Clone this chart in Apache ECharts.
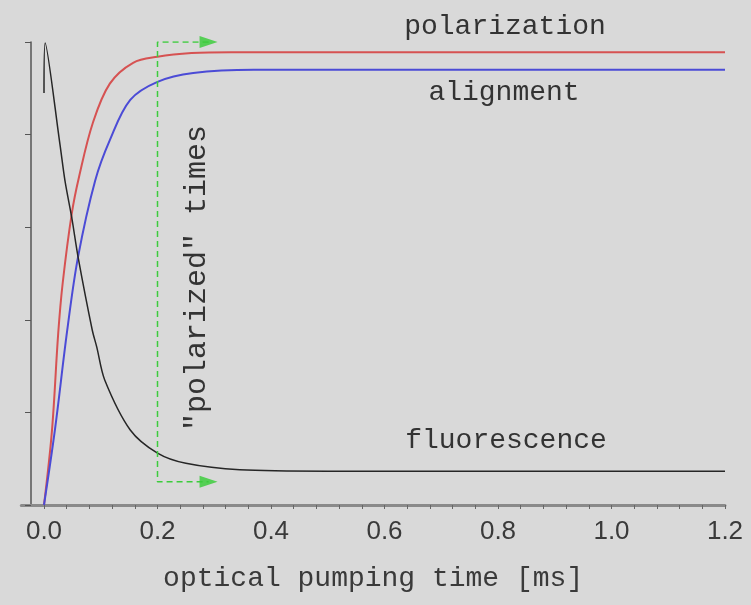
<!DOCTYPE html>
<html>
<head>
<meta charset="utf-8">
<script src="https://cdn.jsdelivr.net/npm/echarts@6/dist/echarts.min.js"></script>
<style>
  html, body { margin: 0; padding: 0; background: #d9d9d9; }
  #main { width: 751px; height: 605px; }
</style>
</head>
<body>
<div id="main"></div>
<script>
"use strict";
// values (x in ms, y normalised 0..1)
var polTime = [0, 0.014, 0.025, 0.033, 0.049, 0.062, 0.086, 0.116, 0.157, 0.2, 0.26, 0.33, 0.6, 1.2];
var polVal  = [0, 0.16, 0.37, 0.48, 0.63, 0.71, 0.825, 0.91, 0.955, 0.968, 0.976, 0.978, 0.978, 0.978];

var aliTime = [0, 0.019, 0.041, 0.06, 0.09, 0.116, 0.152, 0.2, 0.263, 0.37, 0.6, 1.2];
var aliVal  = [0, 0.16, 0.378, 0.536, 0.70, 0.788, 0.875, 0.914, 0.933, 0.94, 0.94, 0.94];

var fluTime = [0, 0.002, 0.028, 0.037, 0.049, 0.06, 0.085, 0.093, 0.107, 0.152, 0.2, 0.25, 0.345, 0.5, 1.2];
var fluVal  = [0.89, 0.998, 0.78, 0.70, 0.62, 0.536, 0.378, 0.341, 0.27, 0.162, 0.112, 0.09, 0.076, 0.073, 0.073];

// green "polarized times" bracket
var boxTime = [0.29, 0.2, 0.2, 0.29];
var boxVal  = [1.0, 1.0, 0.05, 0.05];
var arrowTime = [0.29, 0.29];
var arrowVal  = [1.0, 0.05];

var xLabels = [0, 0.2, 0.4, 0.6, 0.8, 1.0, 1.2];
var xTicks = [];
for (var i = 0; i <= 30; i++) xTicks.push(+(i * 0.04).toFixed(2));

function pairs(xs, ys) {
    return xs.map(function(x, i) { return [x, ys[i]]; });
}

var myChart = echarts.init(document.getElementById('main'));

var textFont = '"Liberation Mono", "DejaVu Sans Mono", monospace';

var option = {
    backgroundColor: '#d9d9d9',
    animation: false,
    grid: { left: 21.3, right: 26, top: 42, bottom: 100 },
    xAxis: {
        type: 'value',
        min: -0.04,
        max: 1.2,
        splitLine: { show: false },
        axisLine: { onZero: false, lineStyle: { color: '#8a8a8a', width: 3 } },
        axisTick: { customValues: xTicks, length: 4, lineStyle: { color: '#666' } },
        axisLabel: {
            customValues: xLabels,
            margin: 14,
            fontFamily: '"Liberation Sans", Arial, sans-serif',
            fontSize: 26,
            color: '#3a3a3a',
            formatter: function(v) { return v.toFixed(1); }
        },
        name: 'optical pumping time [ms]',
        nameLocation: 'middle',
        nameGap: 60,
        nameTextStyle: { fontFamily: textFont, fontSize: 28, color: '#3a3a3a' }
    },
    yAxis: {
        type: 'value',
        min: 0,
        max: 1,
        interval: 0.2,
        offset: -9.7,
        splitLine: { show: false },
        axisLine: { onZero: false, lineStyle: { color: '#555', width: 1.5 } },
        axisTick: { length: 6, lineStyle: { color: '#555' } },
        axisLabel: { show: false }
    },
    series: [
        {
            name: 'polarization',
            type: 'line',
            data: pairs(polTime, polVal),
            showSymbol: false,
            smooth: 0.35,
            lineStyle: { color: '#d65252', width: 2 }
        },
        {
            name: 'alignment',
            type: 'line',
            data: pairs(aliTime, aliVal),
            showSymbol: false,
            smooth: 0.35,
            lineStyle: { color: '#4b4bd6', width: 2 }
        },
        {
            name: 'fluorescence',
            type: 'line',
            data: pairs(fluTime, fluVal),
            showSymbol: false,
            smooth: 0.3,
            lineStyle: { color: '#262626', width: 1.5 }
        },
        {
            name: 'box',
            type: 'line',
            data: pairs(boxTime, boxVal),
            showSymbol: false,
            lineStyle: { color: '#3ccc3c', width: 1.5, type: [6, 4] }
        },
        {
            name: 'arrows',
            type: 'scatter',
            data: pairs(arrowTime, arrowVal),
            symbol: 'triangle',
            symbolSize: [12, 18],
            symbolRotate: -90,
            itemStyle: { color: '#33cc33' }
        }
    ],
    graphic: [
        { type: 'text', x: 505, y: 27, style: { text: 'polarization', font: '28px ' + textFont, fill: '#333', align: 'center', verticalAlign: 'middle' } },
        { type: 'text', x: 504, y: 93, style: { text: 'alignment', font: '28px ' + textFont, fill: '#333', align: 'center', verticalAlign: 'middle' } },
        { type: 'text', x: 506, y: 441, style: { text: 'fluorescence', font: '28px ' + textFont, fill: '#333', align: 'center', verticalAlign: 'middle' } },
        { type: 'text', x: 197, y: 278, rotation: Math.PI / 2, style: { text: '"polarized" times', font: '30px ' + textFont, fill: '#333', align: 'center', verticalAlign: 'middle' } }
    ]
};

myChart.setOption(option);
</script>
</body>
</html>
